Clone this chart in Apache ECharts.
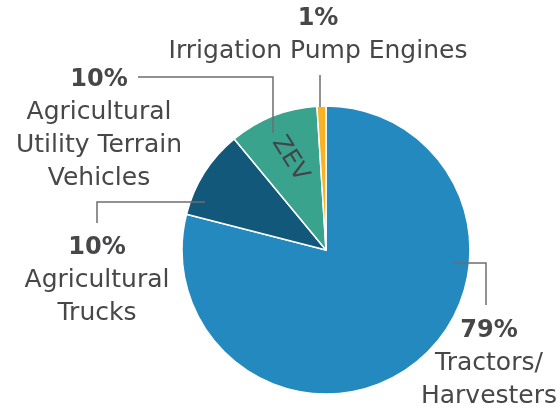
<!DOCTYPE html>
<html>
<head>
<meta charset="utf-8">
<script src="https://cdn.jsdelivr.net/npm/echarts@6/dist/echarts.min.js"></script>
<style>
    html, body { margin: 0; padding: 0; background: #fff; }
    #main { width: 559px; height: 411px; }
</style>
</head>
<body>
<div id="main"></div>
<script>
// data
var names = ['Tractors/\nHarvesters', 'Agricultural\nTrucks', 'Agricultural\nUtility Terrain\nVehicles', 'Irrigation Pump Engines'];
var shares = [79, 10, 10, 1];
var colors = ['#2389bf', '#12587a', '#3aa38e', '#f8b223'];
var zevIndex = 2;

var myChart = echarts.init(document.getElementById('main'));

var txt = '#47474a';
var font = 'DejaVu Sans';
var ctr = [326, 250];

// where each label sits and how its leader line runs
var labelPos = [
    {x: 489, y: 314, line: [[453, 263], [486, 263], [486, 305]]},
    {x: 97, y: 231, line: [[205, 202], [97, 202], [97, 223]]},
    {x: 99, y: 63, line: [[273, 133], [273, 77], [138, 77]]},
    {x: 318, y: 2, line: [[320, 107], [320, 75]]}
];

var pieData = [], labelData = [], zevData = [];
for (var i = 0; i < names.length; i++) {
    pieData.push({value: shares[i], name: names[i], itemStyle: {color: colors[i]}});
    labelData.push({value: shares[i], name: names[i]});
    zevData.push({
        value: shares[i],
        name: names[i],
        label: {show: i === zevIndex}
    });
}

option = {
    animation: false,
    series: [
        {
            name: 'share',
            type: 'pie',
            z: 2,
            center: ctr,
            radius: 144,
            startAngle: 90,
            clockwise: true,
            silent: true,
            itemStyle: {borderColor: '#fff', borderWidth: 1.5},
            label: {show: false},
            labelLine: {show: false},
            data: pieData
        },
        {
            // transparent copy on top, so the leader lines run into the slices
            name: 'labels',
            type: 'pie',
            z: 5,
            center: ctr,
            radius: 144,
            startAngle: 90,
            clockwise: true,
            silent: true,
            avoidLabelOverlap: false,
            itemStyle: {color: 'rgba(0,0,0,0)'},
            label: {
                show: true,
                formatter: function (p) {
                    return '{p|' + p.value + '%}\n{n|' + p.name.split('\n').join('}\n{n|') + '}';
                },
                rich: {
                    p: {fontFamily: font, fontSize: 24, fontWeight: 'bold', color: txt, lineHeight: 33, align: 'center'},
                    n: {fontFamily: font, fontSize: 25, color: txt, lineHeight: 33, align: 'center'}
                }
            },
            labelLine: {
                show: true,
                lineStyle: {color: '#6e6e70', width: 1.5}
            },
            labelLayout: function (params) {
                var lp = labelPos[params.dataIndex];
                return {
                    x: lp.x,
                    y: lp.y,
                    align: 'center',
                    verticalAlign: 'top',
                    labelLinePoints: lp.line
                };
            },
            data: labelData
        },
        {
            // the ZEV note inside the utility slice
            name: 'zev',
            type: 'pie',
            z: 6,
            center: ctr,
            radius: [46, 144],
            startAngle: 90,
            clockwise: true,
            silent: true,
            itemStyle: {color: 'rgba(0,0,0,0)'},
            label: {
                position: 'inside',
                formatter: 'ZEV',
                rotate: -58,
                fontFamily: font,
                fontSize: 24,
                color: '#444447'
            },
            labelLine: {show: false},
            data: zevData
        }
    ]
};
myChart.setOption(option);
</script>
</body>
</html>
